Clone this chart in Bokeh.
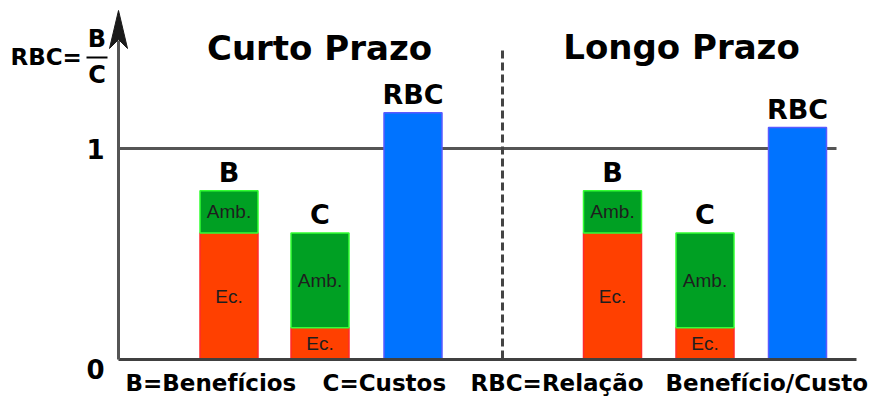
from bokeh.plotting import figure
from bokeh.models import ColumnDataSource, Range1d
from bokeh.core.properties import value
from bokeh.embed import file_html
from bokeh.resources import INLINE

# ---------------- data ----------------
periods = ["Curto Prazo", "Longo Prazo"]
bar_names = ["B", "C", "RBC"]
b_ec = [0.60, 0.60]      # Benefícios - parcela económica
b_amb = [0.20, 0.20]     # Benefícios - parcela ambiental
c_ec = [0.15, 0.15]      # Custos - parcela económica
c_amb = [0.45, 0.45]     # Custos - parcela ambiental
rbc = [1.17, 1.10]       # Relação Benefício/Custo
segment_labels = ["Ec.", "Amb."]
y_ticks = [0, 1]
y_tick_labels = ["0", "1"]
bottom_labels = ["B=Benefícios", "C=Custos", "RBC=Relação", "Benefício/Custo"]

# ---------------- layout (pixels) ----------------
W, H = 881, 396
Y0_PX, PX_PER_UNIT = 359, 211


def Y(py):
    return (Y0_PX - py) / PX_PER_UNIT


def up(px):
    return px / PX_PER_UNIT


b_x = [228.5, 612.0]
c_x = [319.5, 704.5]
r_x = [412.5, 797.0]
title_x = [319, 681]
BAR_W = 58
AXIS_X = 118
DIV_X = 502

EC_FILL, EC_LINE = "#FF4000", "#FF2A2A"
AMB_FILL, AMB_LINE = "#00A023", "#33FF33"
RBC_FILL, RBC_LINE = "#0073FF", "#5A5AFF"
HEAVY = value("DejaVu Sans")
LIGHT = value("Liberation Sans")

p = figure(width=W, height=H, x_range=Range1d(0, W), y_range=Range1d(Y(H), Y(0)),
           output_backend="svg", toolbar_location=None, min_border=0)
p.axis.visible = False
p.xgrid.visible = False
p.ygrid.visible = False
p.outline_line_color = None
p.background_fill_color = "white"

# reference lines
p.segment(x0=[AXIS_X], y0=[1], x1=[836], y1=[1], line_color="#555555", line_width=3)
p.segment(x0=[DIV_X], y0=[Y(50)], x1=[DIV_X], y1=[0], line_color="#444444",
          line_width=3, line_dash="8 4")

# stacked bars B and C
ec_x = b_x + c_x
ec_top = b_ec + c_ec
amb_bottom = ec_top
amb_top = [e + a for e, a in zip(b_ec + c_ec, b_amb + c_amb)]
p.vbar(x=ec_x, width=BAR_W, bottom=0, top=ec_top, fill_color=EC_FILL,
       line_color=EC_LINE, line_width=1.5)
p.vbar(x=ec_x, width=BAR_W, bottom=amb_bottom, top=amb_top, fill_color=AMB_FILL,
       line_color=AMB_LINE, line_width=1.5)
p.vbar(x=r_x, width=BAR_W, bottom=0, top=rbc, fill_color=RBC_FILL,
       line_color=RBC_LINE, line_width=1.5)

# segment labels
seg = ColumnDataSource(dict(
    x=ec_x + ec_x,
    y=[t / 2 for t in ec_top] + [(b + t) / 2 for b, t in zip(amb_bottom, amb_top)],
    t=[segment_labels[0]] * len(ec_x) + [segment_labels[1]] * len(ec_x),
))
p.text(x="x", y="y", text="t", source=seg, text_font=LIGHT, text_font_size="19px",
       text_color="#1E1E1E", text_align="center", text_baseline="middle")

# labels above bars
tops = amb_top + rbc
top_src = ColumnDataSource(dict(
    x=b_x + c_x + r_x,
    y=[t + up(18) for t in tops],
    t=[bar_names[0]] * 2 + [bar_names[1]] * 2 + [bar_names[2]] * 2,
))
p.text(x="x", y="y", text="t", source=top_src, text_font=HEAVY, text_font_style="bold",
       text_font_size="27px", text_color="black", text_align="center",
       text_baseline="middle")

# titles
p.text(x=title_x, y=[Y(47.5), Y(46)], text=periods, text_font=HEAVY,
       text_font_style="bold", text_font_size="34px", text_color="black",
       text_align="center", text_baseline="middle")

# baseline and y axis with arrow
p.segment(x0=[AXIS_X], y0=[0], x1=[856], y1=[0], line_color="#404040", line_width=3)
p.segment(x0=[AXIS_X], y0=[0], x1=[AXIS_X], y1=[Y(40)], line_color="#555555", line_width=3)
p.patch(x=[AXIS_X, AXIS_X - 9, AXIS_X, AXIS_X + 9],
        y=[Y(10), Y(48), Y(39), Y(48)], fill_color="#1A1A1A", line_color="#1A1A1A")

# y tick labels
p.text(x=[95] * len(y_ticks), y=[Y(368), 1], text=y_tick_labels, text_font=HEAVY,
       text_font_style="bold", text_font_size="26px", text_color="black",
       text_align="center", text_baseline="middle")

# RBC = B / C formula
p.text(x=[10], y=[Y(56.5)], text=["RBC="], text_font=HEAVY, text_font_style="bold",
       text_font_size="23px", text_color="black", text_align="left",
       text_baseline="middle")
p.text(x=[96.5, 96.5], y=[Y(38), Y(74)], text=["B", "C"], text_font=HEAVY,
       text_font_style="bold", text_font_size="24px", text_color="black",
       text_align="center", text_baseline="middle")
p.segment(x0=[86], y0=[Y(57)], x1=[107], y1=[Y(57)], line_color="black", line_width=2)

# bottom legend text
p.text(x=[125, 322, 470, 665], y=[Y(382)] * 4, text=bottom_labels, text_font=HEAVY,
       text_font_style="bold", text_font_size="23px", text_color="black",
       text_align="left", text_baseline="middle")

open("out.html", "w").write(file_html(p, INLINE))
